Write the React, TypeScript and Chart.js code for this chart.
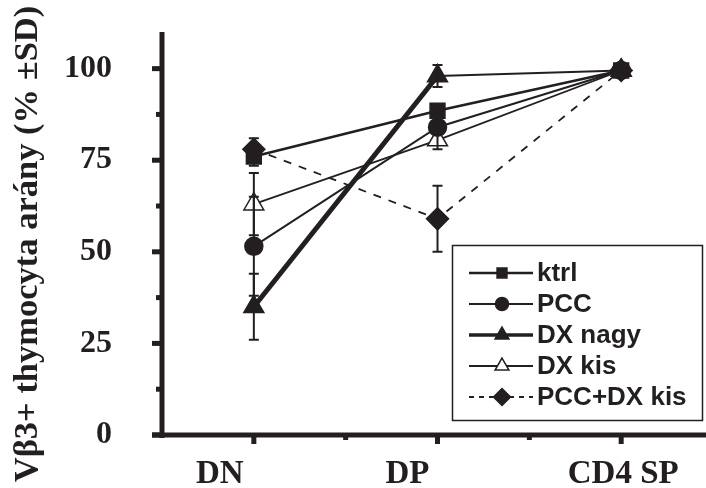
import React, { useEffect, useRef } from 'react';
import { Chart, registerables } from 'chart.js';
import { drawPoint } from 'chart.js/helpers';

Chart.register(...registerables);

// ---------- data ----------
const categories = ['DN', 'DP', 'CD4 SP'];
const seriesNames = ['ktrl', 'PCC', 'DX nagy', 'DX kis', 'PCC+DX kis'];
const ktrl = [76, 88.5, 99.5];
const ktrlSD = [2.5, 1, 0.5];
const pcc = [51.5, 84, 99.5];
const pccSD = [13.5, 1, 0.5];
const dxNagy = [35, 98, 99.5];
const dxNagySD = [9, 3, 0.5];
const dxKis = [63, 80.5, 99.5];
const dxKisSD = [8.5, 2.5, 0.5];
const pccDxKis = [78, 59, 99.5];
const pccDxKisSD = [3, 9, 0.5];
const yTickValues = [0, 25, 50, 75, 100];
const yTitle = 'Vβ3+ thymocyta arány (% ±SD)';

const INK = '#231f20';

const seriesValues = [ktrl, pcc, dxNagy, dxKis, pccDxKis];
const seriesSD = [ktrlSD, pccSD, dxNagySD, dxKisSD, pccDxKisSD];
const seriesStyle = [
  { pointStyle: 'rect', radius: 10.5, lr: 7, lineWidth: 2.6, segWidths: [2.6, 2.6], bg: INK, dash: [] as number[], ldash: [] as number[] },
  { pointStyle: 'circle', radius: 9, lr: 6.5, lineWidth: 2, segWidths: [2, 2], bg: INK, dash: [], ldash: [] },
  { pointStyle: 'triangle', radius: 11.5, lr: 8, lineWidth: 3.5, segWidths: [5, 2], bg: INK, dash: [], ldash: [] },
  { pointStyle: 'triangle', radius: 11.5, lr: 8, lineWidth: 2, segWidths: [1.8, 1.8], bg: '#ffffff', dash: [], ldash: [] },
  { pointStyle: 'rectRot', radius: 11, lr: 8.5, lineWidth: 1.8, segWidths: [1.8, 1.8], bg: INK, dash: [8, 8], ldash: [5, 5] },
];

const customAxes = {
  id: 'customAxes',
  afterDraw(chart: any) {
    const { ctx, chartArea, scales } = chart;
    const xs = scales.x;
    const ys = scales.y;
    const left = chartArea.left;
    const bottom = chartArea.bottom;
    ctx.save();
    ctx.fillStyle = INK;
    // axis lines
    ctx.fillRect(left - 2.5, chartArea.top, 5, bottom - chartArea.top + 3);
    ctx.fillRect(left - 10, bottom - 2.5, chart.width - left + 10, 5);
    // y ticks
    for (let v = 0; v <= ys.max; v += 12.5) {
      const y = ys.getPixelForValue(v);
      const major = yTickValues.includes(v);
      const len = major ? 10 : 6;
      ctx.fillRect(left - len, y - 2.5, len, 5);
    }
    // x ticks
    for (let v = 0; v <= xs.max + 0.6; v += 0.5) {
      const x = xs.getPixelForValue(v);
      if (x > chart.width) break;
      const major = Number.isInteger(v);
      const len = major ? 9 : 5;
      ctx.fillRect(x - 2.5, bottom, 5, len);
    }
    // x labels
    ctx.font = 'bold 33px "Liberation Serif"';
    ctx.textAlign = 'center';
    ctx.textBaseline = 'alphabetic';
    const nudge = [-34, -30, 2];
    categories.forEach((c, i) => {
      const x = xs.getPixelForValue(i) + nudge[i];
      ctx.fillText(c, x, bottom + 48);
    });
    // y title
    ctx.save();
    ctx.translate(28, 244);
    ctx.rotate(-Math.PI / 2);
    ctx.font = 'bold 34.5px "Liberation Serif"';
    ctx.textAlign = 'center';
    ctx.textBaseline = 'middle';
    ctx.fillText(yTitle, 0, 0);
    ctx.restore();
    ctx.restore();
  },
};

const errorBars = {
  id: 'errorBars',
  afterDatasetsDraw(chart: any) {
    const { ctx, scales } = chart;
    ctx.save();
    ctx.strokeStyle = INK;
    ctx.lineWidth = 2;
    seriesValues.forEach((vals, s) => {
      vals.forEach((v, i) => {
        const sd = seriesSD[s][i];
        const x = scales.x.getPixelForValue(i);
        const y1 = scales.y.getPixelForValue(v + sd);
        const y2 = scales.y.getPixelForValue(v - sd);
        ctx.beginPath();
        ctx.moveTo(x, y1);
        ctx.lineTo(x, y2);
        ctx.moveTo(x - 5, y1);
        ctx.lineTo(x + 5, y1);
        ctx.moveTo(x - 5, y2);
        ctx.lineTo(x + 5, y2);
        ctx.stroke();
      });
    });
    ctx.restore();
  },
};

const customLegend = {
  id: 'customLegend',
  afterDraw(chart: any) {
    const { ctx } = chart;
    ctx.save();
    ctx.strokeStyle = INK;
    ctx.lineWidth = 1.5;
    ctx.strokeRect(452.5, 245.5, 250, 175);
    ctx.font = 'bold 26px "Liberation Sans"';
    ctx.textAlign = 'left';
    ctx.textBaseline = 'middle';
    seriesNames.forEach((name, i) => {
      const st = seriesStyle[i];
      const y = 273 + i * 31;
      ctx.strokeStyle = INK;
      ctx.lineWidth = st.lineWidth;
      ctx.setLineDash(st.ldash);
      ctx.beginPath();
      ctx.moveTo(469, y);
      ctx.lineTo(533, y);
      ctx.stroke();
      ctx.setLineDash([]);
      ctx.fillStyle = st.bg;
      ctx.strokeStyle = INK;
      ctx.lineWidth = 1.5;
      drawPoint(ctx, { pointStyle: st.pointStyle as any, radius: st.lr, rotation: 0, borderWidth: 1.5 }, 502, y);
      ctx.fillStyle = INK;
      ctx.fillText(name, 537, y + 1);
    });
    ctx.restore();
  },
};

export default function App() {
  const ref = useRef<HTMLCanvasElement | null>(null);
  useEffect(() => {
    if (!ref.current) return;
    const chart = new Chart(ref.current, {
      type: 'line',
      data: {
        datasets: seriesNames.map((name, s) => ({
          label: name,
          data: seriesValues[s].map((v, i) => ({ x: i, y: v })),
          borderColor: INK,
          borderWidth: seriesStyle[s].lineWidth,
          borderDash: seriesStyle[s].dash,
          segment: {
            borderWidth: (c: any) => seriesStyle[s].segWidths[c.p0DataIndex],
          },
          backgroundColor: seriesStyle[s].bg,
          pointStyle: seriesStyle[s].pointStyle as any,
          pointRadius: seriesStyle[s].radius,
          pointBackgroundColor: seriesStyle[s].bg,
          pointBorderColor: INK,
          pointBorderWidth: 1.5,
          tension: 0,
          fill: false,
          clip: false as any,
        })),
      },
      options: {
        responsive: false,
        animation: false,
        layout: { padding: { top: 32, right: 0, left: 0, bottom: 0 } },
        plugins: { legend: { display: false }, tooltip: { enabled: false } },
        scales: {
          x: {
            type: 'linear',
            min: -0.5,
            max: 2.391,
            grid: { display: false },
            border: { display: false },
            ticks: { display: false },
            afterFit(scale: any) {
              scale.height = 53;
              scale.paddingLeft = 0;
              scale.paddingRight = 0;
              scale.paddingTop = 0;
              scale.paddingBottom = 0;
            },
          },
          y: {
            type: 'linear',
            min: 0,
            max: 110,
            grid: { display: false },
            border: { display: false },
            ticks: {
              stepSize: 25,
              includeBounds: false,
              padding: 42,
              color: INK,
              font: { family: '"Liberation Serif"', size: 32, weight: 'bold' },
              callback: (v: any) => (yTickValues.includes(v) ? String(v) : ''),
            },
            title: { display: false },
            afterFit(scale: any) {
              scale.width = 162;
              scale.paddingTop = 0;
              scale.paddingBottom = 0;
              scale.paddingLeft = 0;
              scale.paddingRight = 0;
            },
          },
        },
      },
      plugins: [customAxes, errorBars, customLegend],
    });
    return () => chart.destroy();
  }, []);
  return (
    <div style={{ position: 'absolute', left: 0, top: 0, width: 706, height: 488 }}>
      <canvas ref={ref} width={706} height={488} />
    </div>
  );
}
